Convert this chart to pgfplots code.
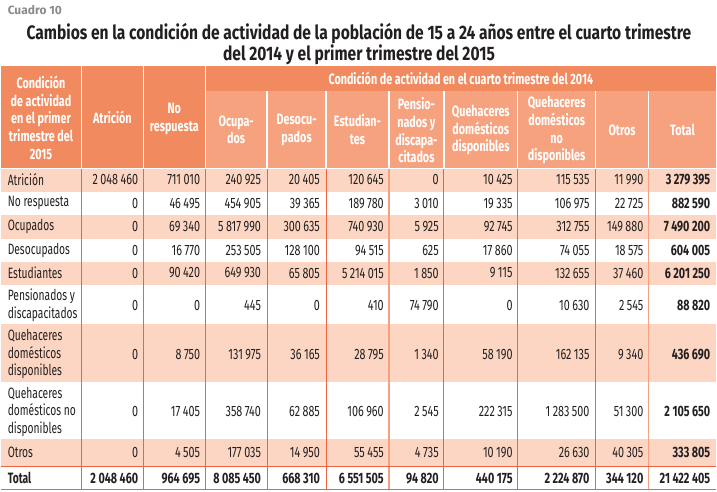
\documentclass[border=0pt]{standalone}
\usepackage{pgfplots}
\pgfplotsset{compat=1.18}
\usepackage{fontspec}
\setmainfont[FakeStretch=0.72]{Fira Sans}
\newfontfamily\titlefont[FakeStretch=0.8]{Fira Sans}
\newfontfamily\widefont{Fira Sans}
\newfontfamily\labfont[FakeStretch=0.685]{Fira Sans}
\definecolor{hdark}{HTML}{F28A5F}
\definecolor{hlight}{HTML}{F6A27F}
\definecolor{rowsh}{HTML}{FCD6C3}
\definecolor{rulec}{HTML}{EE6440}
\definecolor{rulel}{HTML}{F5A080}
\definecolor{txt}{HTML}{231F20}
\definecolor{grayt}{HTML}{8A8A8A}
\newcommand{\bodyfont}{\fontsize{15}{17.5}\selectfont}
\newcommand{\labelfont}{\labfont\fontsize{15}{17.5}\selectfont}
\newcommand{\hfont}{\fontsize{15}{17.7}\selectfont\bfseries}
\pgfplotsset{
  vals/.style={draw=none, mark=none, nodes near coords, point meta=explicit symbolic,
    every node near coord/.append style={anchor=east, inner sep=0pt, font=\bodyfont, text=txt}},
  valsb/.style={vals, every node near coord/.append style={font=\bodyfont\bfseries}}
}
\begin{document}
\begin{tikzpicture}
\begin{axis}[scale only axis, width=717pt, height=492pt,
  xmin=0, xmax=717, ymin=0, ymax=492, y dir=reverse, hide axis, clip=false]
% background
\path (axis cs:0,0) rectangle (axis cs:717,492);
% header
\fill[hdark] (axis cs:0,66) rectangle (axis cs:717,168);
\fill[hlight] (axis cs:205,91) rectangle (axis cs:717,168);
\pgfplotsinvokeforeach{81,143,205}{\draw[white, line width=1.5pt] (axis cs:#1,66) -- (axis cs:#1,168);}
\pgfplotsinvokeforeach{267,326,389,444,518,596,649}{\draw[white, line width=1.5pt] (axis cs:#1,91) -- (axis cs:#1,168);}
% shaded rows
\fill[rowsh] (axis cs:0,168.8) rectangle (axis cs:717,192);
\fill[rowsh] (axis cs:0,215) rectangle (axis cs:717,239);
\fill[rowsh] (axis cs:0,262) rectangle (axis cs:717,285);
\fill[rowsh] (axis cs:0,325) rectangle (axis cs:717,383);
\fill[rowsh] (axis cs:0,440) rectangle (axis cs:717,467);
% rules
\pgfplotsinvokeforeach{81,143,205,267,326,444,518,596}{\draw[rulec, line width=1pt] (axis cs:#1,168.8) -- (axis cs:#1,490);}
\pgfplotsinvokeforeach{389,649}{\draw[rulel, line width=1.2pt] (axis cs:#1,168.8) -- (axis cs:#1,490);}
\draw[rulec, line width=1.2pt] (axis cs:0,467) -- (axis cs:717,467);
\draw[rulec, line width=1.2pt] (axis cs:0,490) -- (axis cs:717,490);
% titles
\node[anchor=west, text=grayt, font=\widefont\fontsize{12}{14}\selectfont\bfseries, inner sep=0pt] at (axis cs:7,10) {Cuadro 10};
\node[align=center, text=txt, font=\titlefont\fontsize{19.5}{20.5}\selectfont\bfseries, inner sep=0pt] at (axis cs:359,44)
  {Cambios en la condición de actividad de la población de 15 a 24 años entre el cuarto trimestre\\ del 2014 y el primer trimestre del 2015};
% header text
\begin{scope}[every node/.style={align=center, text=white, font=\hfont, inner sep=0pt}]
\node at (axis cs:40.5,118) {Condición\\de actividad\\en el primer\\trimestre del\\2015};
\node at (axis cs:112,118) {Atrición};
\node at (axis cs:174,119) {No\\respuesta};
\node at (axis cs:461,79) {Condición de actividad en el cuarto trimestre del 2014};
\node at (axis cs:236,130) {Ocupa-\\dos};
\node at (axis cs:296.5,130) {Desocu-\\pados};
\node at (axis cs:357.5,130) {Estudian-\\tes};
\node at (axis cs:416.5,130.5) {Pensio-\\nados y\\discapa-\\citados};
\node at (axis cs:481,130.5) {Quehaceres\\domésticos\\disponibles};
\node at (axis cs:557,130.5) {Quehaceres\\domésticos\\no\\disponibles};
\node at (axis cs:622.5,130.5) {Otros};
\node at (axis cs:683,130.5) {Total};
\end{scope}
% row labels
\begin{scope}[every node/.style={anchor=west, align=left, text=txt, font=\labelfont, inner sep=0pt}]
\node at (axis cs:7,180) {Atrición};
\node at (axis cs:7,203.5) {No respuesta};
\node at (axis cs:7,227) {Ocupados};
\node at (axis cs:7,250.5) {Desocupados};
\node at (axis cs:7,273.5) {Estudiantes};
\node at (axis cs:7,306) {Pensionados y\\discapacitados};
\node at (axis cs:7,355) {Quehaceres\\domésticos\\disponibles};
\node at (axis cs:7,412.5) {Quehaceres\\domésticos no\\disponibles};
\node at (axis cs:7,453.5) {Otros};
\node[font=\labelfont\bfseries] at (axis cs:7,479) {Total};
\end{scope}
% data: Atrición column
\addplot[vals] coordinates {(138,180) [2\,048\,460] (138,203.5) [0] (138,227) [0] (138,250.5) [0] (138,273.5) [0] (138,306) [0] (138,355) [0] (138,412.5) [0] (138,453.5) [0]};
% No respuesta
\addplot[vals] coordinates {(200,180) [711\,010] (200,203.5) [46\,495] (200,227) [69\,340] (200,250.5) [16\,770] (200,273.5) [90\,420] (200,306) [0] (200,355) [8\,750] (200,412.5) [17\,405] (200,453.5) [4\,505]};
% Ocupados
\addplot[vals] coordinates {(261,180) [240\,925] (261,203.5) [454\,905] (261,227) [5\,817\,990] (261,250.5) [253\,505] (261,273.5) [649\,930] (261,306) [445] (261,355) [131\,975] (261,412.5) [358\,740] (261,453.5) [177\,035]};
% Desocupados
\addplot[vals] coordinates {(320,180) [20\,405] (320,203.5) [39\,365] (320,227) [300\,635] (320,250.5) [128\,100] (320,273.5) [65\,805] (320,306) [0] (320,355) [36\,165] (320,412.5) [62\,885] (320,453.5) [14\,950]};
% Estudiantes
\addplot[vals] coordinates {(384,180) [120\,645] (384,203.5) [189\,780] (384,227) [740\,930] (384,250.5) [94\,515] (384,273.5) [5\,214\,015] (384,306) [410] (384,355) [28\,795] (384,412.5) [106\,960] (384,453.5) [55\,455]};
% Pensionados
\addplot[vals] coordinates {(439,180) [0] (439,203.5) [3\,010] (439,227) [5\,925] (439,250.5) [625] (439,273.5) [1\,850] (439,306) [74\,790] (439,355) [1\,340] (439,412.5) [2\,545] (439,453.5) [4\,735]};
% Quehaceres disponibles
\addplot[vals] coordinates {(513,180) [10\,425] (513,203.5) [19\,335] (513,227) [92\,745] (513,250.5) [17\,860] (513,273.5) [9\,115] (513,306) [0] (513,355) [58\,190] (513,412.5) [222\,315] (513,453.5) [10\,190]};
% Quehaceres no disponibles
\addplot[vals] coordinates {(590,180) [115\,535] (590,203.5) [106\,975] (590,227) [312\,755] (590,250.5) [74\,055] (590,273.5) [132\,655] (590,306) [10\,630] (590,355) [162\,135] (590,412.5) [1\,283\,500] (590,453.5) [26\,630]};
% Otros
\addplot[vals] coordinates {(644,180) [11\,990] (644,203.5) [22\,725] (644,227) [149\,880] (644,250.5) [18\,575] (644,273.5) [37\,460] (644,306) [2\,545] (644,355) [9\,340] (644,412.5) [51\,300] (644,453.5) [40\,305]};
% Total column
\addplot[valsb] coordinates {(711,180) [3\,279\,395] (711,203.5) [882\,590] (711,227) [7\,490\,200] (711,250.5) [604\,005] (711,273.5) [6\,201\,250] (711,306) [88\,820] (711,355) [436\,690] (711,412.5) [2\,105\,650] (711,453.5) [333\,805]};
% Total row
\addplot[valsb] coordinates {(138,479) [2\,048\,460] (200,479) [964\,695] (261,479) [8\,085\,450] (320,479) [668\,310] (384,479) [6\,551\,505] (439,479) [94\,820] (513,479) [440\,175] (590,479) [2\,224\,870] (644,479) [344\,120] (711,479) [21\,422\,405]};
\end{axis}
\end{tikzpicture}
\end{document}
